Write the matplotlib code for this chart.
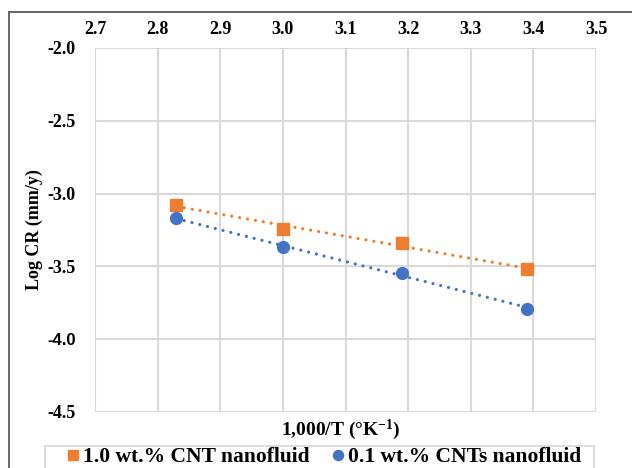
import numpy as np
import matplotlib
matplotlib.use("Agg")
import matplotlib.pyplot as plt
from matplotlib.patches import Rectangle

inv_T = [2.83, 3.00, 3.19, 3.39]
cr_10 = [-3.08, -3.24, -3.34, -3.52]
cr_01 = [-3.17, -3.37, -3.545, -3.79]
labels = ["1.0 wt.% CNT nanofluid", "0.1 wt.% CNTs nanofluid"]
orange = "#ED7D31"
blue = "#4472C4"

plt.rcParams['font.family'] = ['Liberation Serif', 'DejaVu Serif']
plt.rcParams['font.weight'] = 'bold'
plt.rcParams['mathtext.fontset'] = 'custom'
plt.rcParams['mathtext.rm'] = 'Liberation Serif:bold'
plt.rcParams['mathtext.bf'] = 'Liberation Serif:bold'
plt.rcParams['mathtext.default'] = 'bf'

W, H = 632, 468
fig = plt.figure(figsize=(W/100, H/100), dpi=100)
ax = fig.add_axes([95/W, 1-412/H, (596-95)/W, (412-48)/H])

# chart border
fig.patches.append(Rectangle((9/W, -0.1), 1.2, 1-12/H+0.1, transform=fig.transFigure,
                             fill=False, edgecolor='#595959', linewidth=1.3))
# legend box
fig.patches.append(Rectangle((45/W, -0.1), (594-45)/W, 1-446/H+0.1, transform=fig.transFigure,
                             fill=False, edgecolor='#D9D9D9', linewidth=1.3))

h1, = ax.plot(inv_T, cr_10, 's', color=orange, markersize=8, label=labels[0], zorder=3)
h2, = ax.plot(inv_T, cr_01, 'o', color=blue, markersize=8.5, label=labels[1], zorder=3)
for y, c in [(cr_10, orange), (cr_01, blue)]:
    p = np.polyfit(inv_T, y, 1)
    xs = np.array([inv_T[0], inv_T[-1]])
    ax.plot(xs, np.polyval(p, xs), linestyle=(0, (0.01, 2.5)), color=c, linewidth=2.3,
            dash_capstyle='round', solid_capstyle='round', zorder=2)

ax.set_xlim(2.7, 3.5)
ax.set_ylim(-4.5, -2.0)
ax.set_xticks(np.arange(2.7, 3.51, 0.1))
ax.set_yticks(np.arange(-4.5, -1.99, 0.5))
ax.xaxis.set_major_formatter(matplotlib.ticker.FormatStrFormatter('%.1f'))
ax.yaxis.set_major_formatter(matplotlib.ticker.FormatStrFormatter('%.1f'))
ax.xaxis.tick_top()
ax.xaxis.set_label_position('bottom')
ax.tick_params(length=0, labelsize=13, pad=7)
ax.tick_params(axis='y', pad=14)
ax.grid(True, color='#D9D9D9', linewidth=1.5)
for s in ax.spines.values():
    s.set_visible(False)
ax.set_axisbelow(True)

fig.canvas.draw()
for t in ax.get_yticklabels():
    if t.get_text() == '-4.0':
        t.set_family(['Liberation Sans', 'DejaVu Sans'])
        t.set_fontweight('bold')
        t.set_fontsize(12)

ax.set_xlabel("1,000/T (°K$^{-1}$)", fontsize=14, fontweight='bold', labelpad=2)
ax.xaxis.set_label_coords(0.49, -0.015, transform=ax.transAxes)
ax.xaxis.label.set_verticalalignment('top')
ax.set_ylabel("Log CR (mm/y)", fontsize=13, fontweight='bold', labelpad=3)

leg = fig.legend(handles=[h1, h2], loc='center left', bbox_to_anchor=(66.5/W, 1-457/H), ncol=2,
                 fontsize=15.5, frameon=False,
                 handlelength=0.6, handletextpad=0.17, columnspacing=1.0, borderpad=0,
                 borderaxespad=0, markerscale=0.85)

fig.savefig("out.png", dpi=100)
